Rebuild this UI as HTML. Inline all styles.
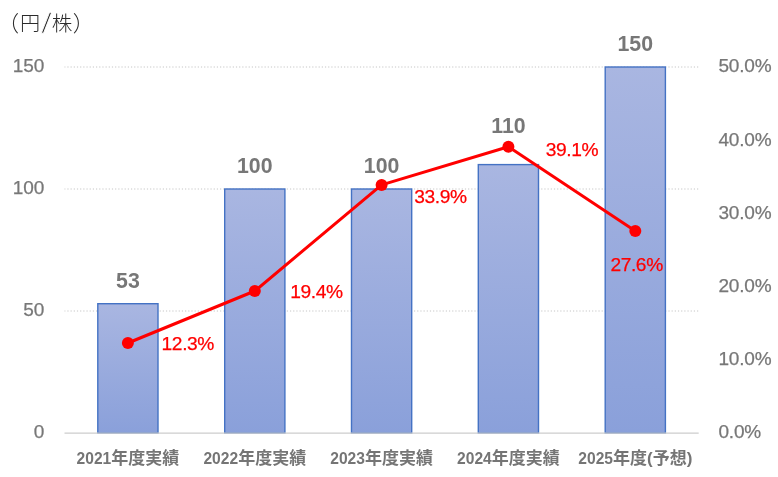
<!DOCTYPE html>
<html lang="ja"><head><meta charset="utf-8"><title>配当金推移</title>
<style>
html,body{margin:0;padding:0;background:#fff;}
body{width:778px;height:477px;overflow:hidden;}
svg{display:block;}
text{font-family:"Liberation Sans","Noto Sans CJK JP",sans-serif;}
.ax{font-size:19px;fill:#777;stroke:#777;stroke-width:.25px;}
.val{font-size:21.3px;font-weight:bold;fill:#777;text-anchor:middle;}
.cat{font-size:15.6px;font-weight:bold;fill:#757575;text-anchor:middle;}
.cat .j{font-size:17px;}
.pct{font-size:19.2px;letter-spacing:-0.4px;fill:#ff0000;stroke:#ff0000;stroke-width:.25px;}
.ttl{font-size:20px;fill:#2b2b2b;font-weight:300;}
</style></head><body>
<svg width="778" height="477" viewBox="0 0 778 477">
<defs><linearGradient id="g" x1="0" y1="0" x2="0" y2="1"><stop offset="0" stop-color="#a9b6e1"/><stop offset="1" stop-color="#8aa0da"/></linearGradient></defs>
<rect width="778" height="477" fill="#fff"/>
<line x1="64.5" x2="698.7" y1="311.0" y2="311.0" stroke="#c6c6c6" stroke-width="1" stroke-dasharray="1.2 1.98" stroke-dashoffset="0.3"/>
<line x1="64.5" x2="698.7" y1="189.0" y2="189.0" stroke="#c6c6c6" stroke-width="1" stroke-dasharray="1.2 1.98" stroke-dashoffset="0.3"/>
<line x1="64.5" x2="698.7" y1="67.0" y2="67.0" stroke="#c6c6c6" stroke-width="1" stroke-dasharray="1.2 1.98" stroke-dashoffset="0.3"/>
<rect x="97.8" y="303.7" width="60.2" height="129.3" fill="url(#g)" stroke="#4472c4" stroke-width="1.4"/>
<rect x="224.7" y="189.0" width="60.2" height="244.0" fill="url(#g)" stroke="#4472c4" stroke-width="1.4"/>
<rect x="351.5" y="189.0" width="60.2" height="244.0" fill="url(#g)" stroke="#4472c4" stroke-width="1.4"/>
<rect x="478.3" y="164.6" width="60.2" height="268.4" fill="url(#g)" stroke="#4472c4" stroke-width="1.4"/>
<rect x="605.2" y="67.0" width="60.2" height="366.0" fill="url(#g)" stroke="#4472c4" stroke-width="1.4"/>
<line x1="64.5" x2="698.7" y1="433.1" y2="433.1" stroke="#cdcdcd" stroke-width="1.1"/>
<text class="val" x="127.9" y="288.0">53</text>
<text class="val" x="254.8" y="173.3">100</text>
<text class="val" x="381.6" y="173.3">100</text>
<text class="val" x="508.4" y="132.9">110</text>
<text class="val" x="635.3" y="51.3">150</text>
<text class="ax" text-anchor="end" x="44.4" y="438.4">0</text>
<text class="ax" text-anchor="end" x="44.4" y="316.4">50</text>
<text class="ax" text-anchor="end" x="44.4" y="194.4">100</text>
<text class="ax" text-anchor="end" x="44.4" y="72.4">150</text>
<text class="ax" letter-spacing="-0.2" x="718.5" y="438.4">0.0%</text>
<text class="ax" letter-spacing="-0.2" x="718.5" y="365.2">10.0%</text>
<text class="ax" letter-spacing="-0.2" x="718.5" y="292.0">20.0%</text>
<text class="ax" letter-spacing="-0.2" x="718.5" y="218.8">30.0%</text>
<text class="ax" letter-spacing="-0.2" x="718.5" y="145.6">40.0%</text>
<text class="ax" letter-spacing="-0.2" x="718.5" y="72.4">50.0%</text>
<text class="cat" x="127.9" y="464">2021<tspan class="j">年度実績</tspan></text>
<text class="cat" x="254.8" y="464">2022<tspan class="j">年度実績</tspan></text>
<text class="cat" x="381.6" y="464">2023<tspan class="j">年度実績</tspan></text>
<text class="cat" x="508.4" y="464">2024<tspan class="j">年度実績</tspan></text>
<text class="cat" x="635.3" y="464">2025<tspan class="j">年度(予想)</tspan></text>
<polyline points="127.9,343.0 254.8,291.0 381.6,184.9 508.4,146.8 635.3,231.0" fill="none" stroke="#ff0000" stroke-width="3" stroke-linejoin="round"/>
<circle cx="127.9" cy="343.0" r="6" fill="#ff0000"/>
<circle cx="254.8" cy="291.0" r="6" fill="#ff0000"/>
<circle cx="381.6" cy="184.9" r="6" fill="#ff0000"/>
<circle cx="508.4" cy="146.8" r="6" fill="#ff0000"/>
<circle cx="635.3" cy="231.0" r="6" fill="#ff0000"/>
<text class="pct" x="161.6" y="350.2">12.3%</text>
<text class="pct" x="290.2" y="298.2">19.4%</text>
<text class="pct" x="414.2" y="203">33.9%</text>
<text class="pct" x="545.8" y="155.6">39.1%</text>
<text class="pct" x="610.4" y="270.6">27.6%</text>
<g class="ttl"><text y="30.5"><tspan x="-2.6" font-size="21.6">（</tspan><tspan x="20" font-size="20.2">円</tspan></text><text transform="translate(41.3,33) skewX(-7)" stroke="#fff" stroke-width="0.9" style="font-size:28.5px;font-weight:normal">/</text><text y="30.5"><tspan x="51.8" font-size="20.6">株</tspan><tspan x="72.7" font-size="21.6">）</tspan></text></g>
</svg>
</body></html>
